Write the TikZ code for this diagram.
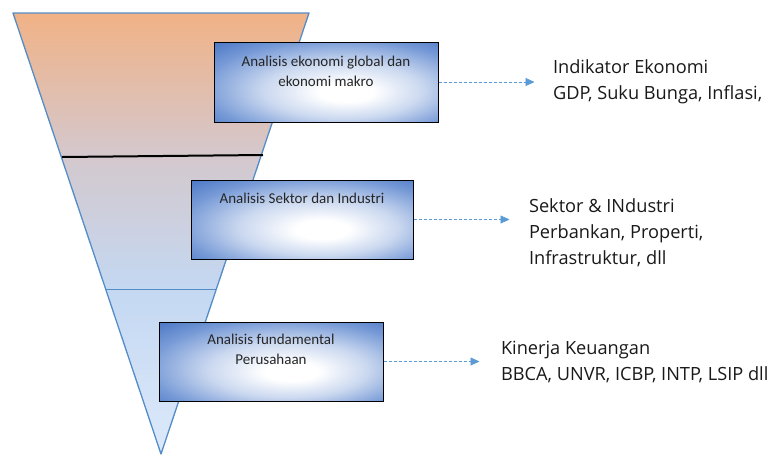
\documentclass[tikz,border=0pt]{standalone}
\usepackage{fontspec}
\setmainfont{Carlito}
\newfontfamily\segoe{Open Sans}
\usetikzlibrary{arrows.meta,positioning,calc}
\definecolor{fTop}{RGB}{241,178,134}
\definecolor{fMid}{RGB}{212,200,205}
\definecolor{fLow}{RGB}{196,216,242}
\definecolor{fBot}{RGB}{220,233,250}
\definecolor{fEdge}{RGB}{84,140,200}
\definecolor{bDark}{RGB}{62,108,192}
\definecolor{bMed}{RGB}{120,155,215}
\definecolor{cArrow}{RGB}{91,155,213}
\pgfdeclareverticalshading{funnelshade}{100bp}{color(0bp)=(fBot); color(25bp)=(fBot);
  color(43.7bp)=(fLow); color(58.8bp)=(fMid); color(75bp)=(fTop); color(100bp)=(fTop)}
\pgfdeclareradialshading{boxshade}{\pgfpoint{5bp}{-7bp}}{color(0bp)=(white); color(6bp)=(white);
  color(18bp)=(white!60!bMed); color(30bp)=(bMed); color(42bp)=(bDark); color(70bp)=(bDark)}
\tikzset{
  funnelbox/.style={rectangle,draw=black,line width=1pt,shading=boxshade,inner sep=0pt},
  boxtext/.style={anchor=north,align=center,font=\fontsize{15}{20}\selectfont,text=black!85},
  infotext/.style={anchor=west,align=left,font=\segoe\fontsize{18.2}{26}\selectfont,text=black!90},
  dasharr/.style={-{Triangle[length=9pt,width=8pt]},dash pattern=on 3pt off 2pt,line width=0.8pt,color=cArrow}
}
\begin{document}
\begin{tikzpicture}[x=1pt,y=-1pt]
  \useasboundingbox (0,0) rectangle (777,456);
  % funnel
  \shade[shading=funnelshade] (13,13) coordinate (ftl) -- (309,13) coordinate (ftr)
      -- (161,454) coordinate (fap) -- cycle;
  \draw[fEdge,line width=1.3pt,line join=round] (ftl) -- (ftr) -- (fap) -- cycle;
  \draw[black,line width=2pt] (62,157) -- (263,155);
  \draw[fEdge,line width=0.7pt] ($(ftl)!0.626!(fap)$) -- ($(ftr)!0.626!(fap)$);

  % boxes
  \node[funnelbox,minimum width=224pt,minimum height=80pt,
        label={[boxtext,yshift=-11pt]north:{Analisis ekonomi global dan\\ekonomi makro}}]
        (makro) at (326,82) {};
  \node[funnelbox,minimum width=222pt,minimum height=79pt,
        label={[boxtext,yshift=-10pt]north:{Analisis Sektor dan Industri}}]
        (sektor) at (302,219.5) {};
  \node[funnelbox,minimum width=224pt,minimum height=79pt,
        label={[boxtext,yshift=-9pt]north:{Analisis fundamental\\Perusahaan}}]
        (emiten) at (271,361.5) {};

  % arrows and notes
  \coordinate[right=96pt of makro.east] (tmakro);
  \coordinate[right=96pt of sektor.east] (tsektor);
  \coordinate[right=96pt of emiten.east] (temiten);
  \foreach \from/\to in {makro/tmakro,sektor/tsektor,emiten/temiten}
    \draw[dasharr] (\from.east) -- (\to);

  \node[infotext,right=15pt of tmakro] (imakro)
      {Indikator Ekonomi\\GDP, Suku Bunga, Inflasi,};
  \node[infotext,right=16pt of tsektor,yshift=-13pt] (isektor)
      {Sektor \& INdustri\\Perbankan, Properti,\\Infrastruktur, dll};
  \node[infotext,right=18pt of temiten] (iemiten)
      {Kinerja Keuangan\\BBCA, UNVR, ICBP, INTP, LSIP dll};
\end{tikzpicture}
\end{document}
